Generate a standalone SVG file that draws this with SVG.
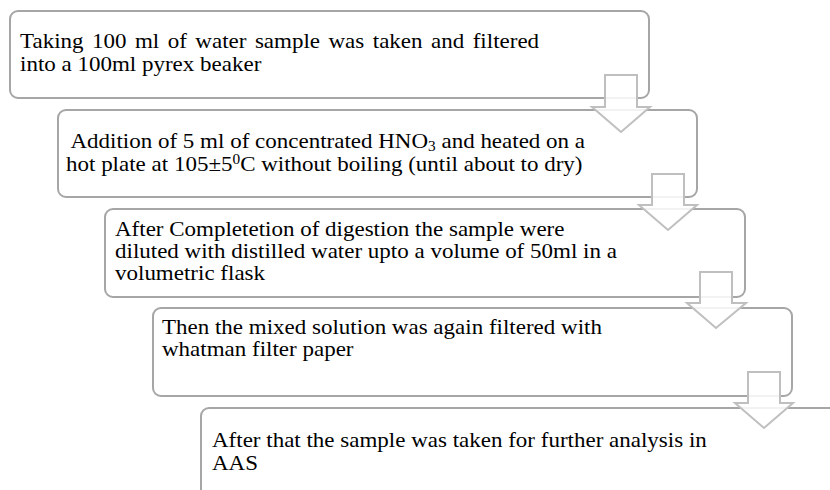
<svg xmlns="http://www.w3.org/2000/svg" width="830" height="490" viewBox="0 0 830 490">
<style>
.box{fill:#ffffff;stroke:#a6a6a6;stroke-width:2}
.arr{fill:#ffffff;fill-opacity:0.85;stroke:#bfbfbf;stroke-width:2;stroke-linejoin:miter}
text{font-family:"Liberation Serif","Times New Roman",serif;font-size:21px;fill:#000000}
.sm{font-size:14px}
</style>
<rect width="830" height="490" fill="#ffffff"/>
<g id="node1">
<rect class="box" x="10" y="11" width="639" height="87" rx="8"/>
<text transform="translate(20,48) scale(1.095,1)" word-spacing="2.5">Taking 100 ml of water sample was taken and filtered</text>
<text transform="translate(20,71) scale(1.095,1)">into a 100ml pyrex beaker</text>
</g>
<g id="node2">
<rect class="box" x="58" y="110" width="639" height="87" rx="8"/>
<text transform="translate(66,148) scale(1.095,1)" xml:space="preserve"> Addition of 5 ml of concentrated HNO<tspan class="sm" dy="3">3</tspan><tspan dy="-3"> and heated on a</tspan></text>
<text transform="translate(66,171) scale(1.095,1)">hot plate at 105±5<tspan class="sm" dy="-7">0</tspan><tspan dy="7">C without boiling (until about to dry)</tspan></text>
</g>
<g id="node3">
<rect class="box" x="105" y="209" width="640" height="88" rx="8"/>
<text transform="translate(115,236) scale(1.095,1)">After Completetion of digestion the sample were</text>
<text transform="translate(115,258) scale(1.095,1)">diluted with distilled water upto a volume of 50ml in a</text>
<text transform="translate(115,280) scale(1.095,1)">volumetric flask</text>
</g>
<g id="node4">
<rect class="box" x="153" y="308" width="639" height="88" rx="8"/>
<text transform="translate(162,334) scale(1.095,1)">Then the mixed solution was again filtered with</text>
<text transform="translate(162,356) scale(1.095,1)">whatman filter paper</text>
</g>
<g id="node5">
<rect class="box" x="201" y="408" width="660" height="90" rx="8"/>
<text transform="translate(212,447) scale(1.095,1)">After that the sample was taken for further analysis in</text>
<text transform="translate(212,470) scale(1.095,1)">AAS</text>
</g>
<g id="connectors">
<polygon class="arr" points="605,75 637,75 637,107 650,107 621,132 592,107 605,107"/>
<polygon class="arr" points="652,174 684,174 684,205 697,205 668,230 639,205 652,205"/>
<polygon class="arr" points="700,272 732,272 732,303 746,303 716,328 687,303 700,303"/>
<polygon class="arr" points="748,372 780,372 780,403 793,403 764,428 735,403 748,403"/>
</g>
</svg>
